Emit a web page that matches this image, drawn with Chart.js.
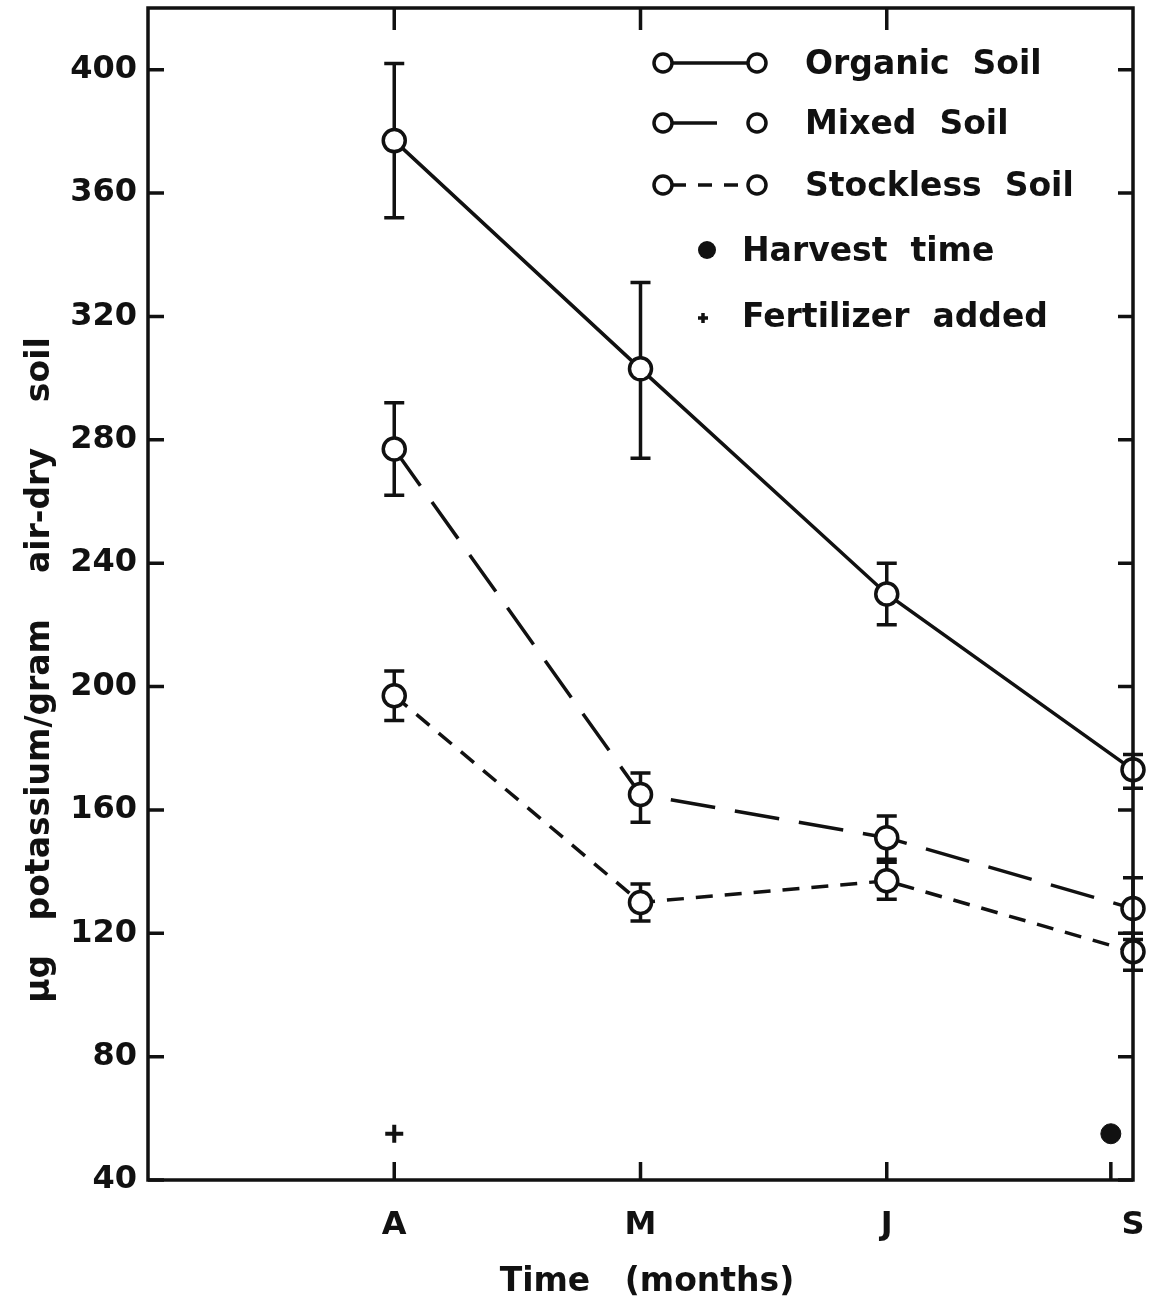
<!DOCTYPE html>
<html>
<head>
<meta charset="utf-8">
<script src="https://cdn.jsdelivr.net/npm/chart.js@4.4.1/dist/chart.umd.min.js"></script>
<style>
  body { margin: 0; background: #fff; }
  #wrap { width: 1162px; height: 1307px; position: relative; }
</style>
</head>
<body>
<div id="wrap"><canvas id="chart"></canvas></div>
<script>
// dados
const months = ['A', 'M', 'J', 'S'];
const monthPos = [1, 2, 3, 4];
const yTicks = [40, 80, 120, 160, 200, 240, 280, 320, 360, 400];

const organic = [377, 303, 230, 173];
const organicLo = [352, 274, 220, 167];
const organicHi = [402, 331, 240, 178];

const mixed = [277, 165, 151, 128];
const mixedLo = [262, 156, 144, 118];
const mixedHi = [292, 172, 158, 138];

const stockless = [197, 130, 137, 114];
const stocklessLo = [189, 124, 131, 108];
const stocklessHi = [205, 136, 143, 120];

const fertilizer = [{ x: 1, y: 55 }];
const harvest = [{ x: 3.91, y: 55 }];

const FONT = "'DejaVu Sans', sans-serif";
const INK = '#111';

const toXY = vals => vals.map((v, i) => ({ x: monthPos[i], y: v }));

const serie = (label, vals, dash) => ({
  label,
  data: toXY(vals),
  borderColor: INK,
  borderWidth: 3.5,
  borderDash: dash,
  backgroundColor: '#fff',
  pointRadius: 11,
  pointBorderWidth: 3.5,
  pointBackgroundColor: '#fff',
  pointBorderColor: INK,
  tension: 0,
  clip: false
});

// tira o padding automático que o Chart.js põe para os rótulos
const noPad = s => { s.paddingTop = 0; s.paddingBottom = 0; s.paddingLeft = 0; s.paddingRight = 0; };

// barras de erro, moldura, ticks internos, legenda e títulos
const extras = {
  id: 'extras',
  beforeDatasetsDraw(chart) {
    const { ctx, scales: { x, y } } = chart;
    const bars = [[organicLo, organicHi], [mixedLo, mixedHi], [stocklessLo, stocklessHi]];
    ctx.save();
    ctx.strokeStyle = INK;
    ctx.lineWidth = 3.5;
    bars.forEach(([lo, hi]) => {
      lo.forEach((l, i) => {
        const px = x.getPixelForValue(monthPos[i]);
        const y1 = y.getPixelForValue(l), y2 = y.getPixelForValue(hi[i]);
        ctx.beginPath();
        ctx.moveTo(px, y1); ctx.lineTo(px, y2);
        ctx.moveTo(px - 10, y1); ctx.lineTo(px + 10, y1);
        ctx.moveTo(px - 10, y2); ctx.lineTo(px + 10, y2);
        ctx.stroke();
      });
    });
    ctx.restore();
  },
  afterDraw(chart) {
    const { ctx, chartArea: a, scales: { x, y } } = chart;
    ctx.save();
    ctx.strokeStyle = INK;
    ctx.lineWidth = 3.5;
    ctx.strokeRect(a.left, a.top, a.right - a.left, a.bottom - a.top);

    ctx.beginPath();
    yTicks.forEach(v => {
      const py = y.getPixelForValue(v);
      ctx.moveTo(a.left, py); ctx.lineTo(a.left + 16, py);
      ctx.moveTo(a.right, py); ctx.lineTo(a.right - 15, py);
    });
    [1, 2, 3, 3.91].forEach(v => {
      const px = x.getPixelForValue(v);
      ctx.moveTo(px, a.bottom); ctx.lineTo(px, a.bottom - 18);
    });
    [1, 2, 3].forEach(v => {
      const px = x.getPixelForValue(v);
      ctx.moveTo(px, a.top); ctx.lineTo(px, a.top + 22);
    });
    ctx.stroke();

    // legenda
    const entries = [
      { text: 'Organic  Soil', y: 63, dash: [] },
      { text: 'Mixed  Soil', y: 123, dash: [45, 100] },
      { text: 'Stockless  Soil', y: 185, dash: [14, 12] }
    ];
    ctx.font = 'bold 33px ' + FONT;
    ctx.fillStyle = INK;
    ctx.textBaseline = 'middle';
    entries.forEach(e => {
      ctx.setLineDash(e.dash);
      ctx.beginPath();
      ctx.moveTo(672, e.y); ctx.lineTo(750, e.y);
      ctx.stroke();
      ctx.setLineDash([]);
      [663, 757].forEach(cx => {
        ctx.beginPath();
        ctx.arc(cx, e.y, 9, 0, Math.PI * 2);
        ctx.fillStyle = '#fff';
        ctx.fill();
        ctx.stroke();
      });
      ctx.fillStyle = INK;
      ctx.fillText(e.text, 805, e.y + 2);
    });
    ctx.beginPath();
    ctx.arc(707, 250, 9, 0, Math.PI * 2);
    ctx.fill();
    ctx.fillText('Harvest  time', 742, 252);
    ctx.beginPath();
    ctx.moveTo(698, 318); ctx.lineTo(708, 318);
    ctx.moveTo(703, 313); ctx.lineTo(703, 323);
    ctx.stroke();
    ctx.fillText('Fertilizer  added', 742, 318);

    // títulos dos eixos
    ctx.font = 'bold 33px ' + FONT;
    ctx.textAlign = 'center';
    ctx.fillText('Time   (months)', 647, 1282);
    ctx.translate(40, 670);
    ctx.rotate(-Math.PI / 2);
    ctx.fillText('\u00b5g   potassium/gram    air-dry    soil', 0, 0);
    ctx.restore();
  }
};

new Chart(document.getElementById('chart').getContext('2d'), {
  type: 'line',
  data: {
    datasets: [
      serie('Organic Soil', organic, []),
      serie('Mixed Soil', mixed, [45, 20]),
      serie('Stockless Soil', stockless, [17, 12]),
      {
        label: 'Fertilizer added',
        data: fertilizer,
        showLine: false,
        pointStyle: 'cross',
        pointRadius: 9,
        pointBorderWidth: 4,
        pointBorderColor: INK,
        clip: false
      },
      {
        label: 'Harvest time',
        data: harvest,
        showLine: false,
        pointStyle: 'circle',
        pointRadius: 10,
        pointBackgroundColor: INK,
        pointBorderColor: INK,
        clip: false
      }
    ]
  },
  options: {
    responsive: true,
    maintainAspectRatio: false,
    animation: false,
    layout: { autoPadding: false, padding: { top: 8, right: 29, left: 0, bottom: 0 } },
    plugins: { legend: { display: false }, tooltip: { enabled: false } },
    scales: {
      x: {
        type: 'linear',
        min: 0,
        max: 4,
        grid: { display: false, drawTicks: false },
        border: { display: false },
        afterBuildTicks: s => { s.ticks = monthPos.map(v => ({ value: v })); },
        afterFit: s => { s.height = 127; noPad(s); },
        ticks: {
          padding: 26,
          color: INK,
          font: { family: FONT, size: 32, weight: 'bold' },
          callback: v => months[monthPos.indexOf(v)]
        }
      },
      y: {
        type: 'linear',
        min: 40,
        max: 420,
        grid: { display: false, drawTicks: false },
        border: { display: false },
        afterBuildTicks: s => { s.ticks = yTicks.map(v => ({ value: v })); },
        afterFit: s => { s.width = 148; noPad(s); },
        ticks: {
          padding: 11,
          color: INK,
          font: { family: FONT, size: 32, weight: 'bold' }
        }
      }
    }
  },
  plugins: [extras]
});
</script>
</body>
</html>
